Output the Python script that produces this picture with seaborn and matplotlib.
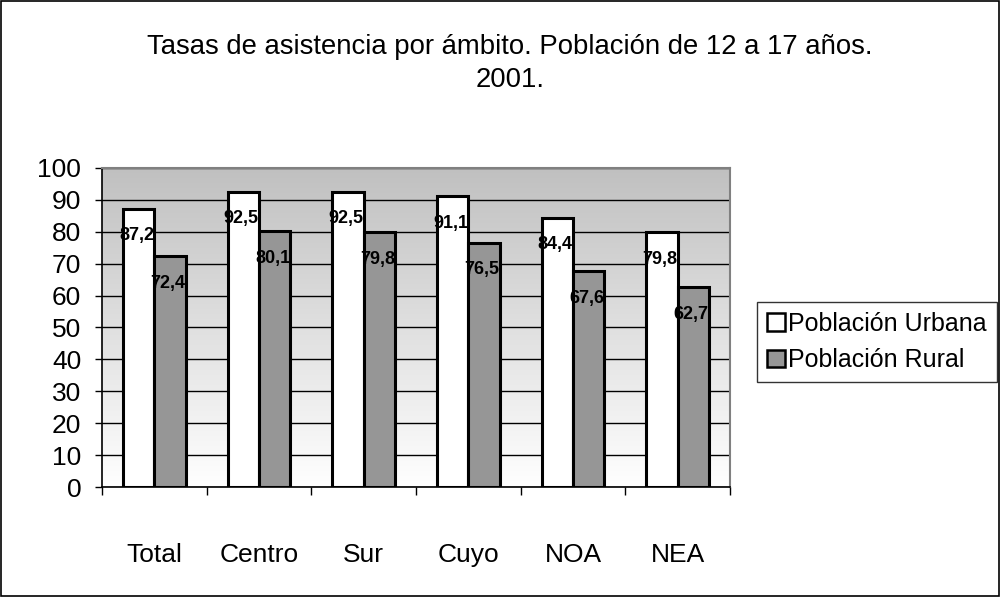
import numpy as np
import pandas as pd
import matplotlib
matplotlib.use("Agg")
import matplotlib.pyplot as plt
import seaborn as sns
from matplotlib.patches import Patch, Rectangle

# Data
regiones = ["Total", "Centro", "Sur", "Cuyo", "NOA", "NEA"]
urbana = [87.2, 92.5, 92.5, 91.1, 84.4, 79.8]
rural = [72.4, 80.1, 79.8, 76.5, 67.6, 62.7]
series = ["Población Urbana", "Población Rural"]
colores = ["#ffffff", "#969696"]

df = pd.DataFrame({
    "region": regiones * 2,
    "valor": urbana + rural,
    "serie": [series[0]] * len(regiones) + [series[1]] * len(regiones),
})

sns.set_style("white")
plt.rcParams["font.family"] = ["Liberation Sans", "DejaVu Sans"]
plt.rcParams["text.color"] = "black"
plt.rcParams["xtick.color"] = "black"
plt.rcParams["ytick.color"] = "black"

fig = plt.figure(figsize=(10, 5.97), dpi=100)
ax = fig.add_axes([0.102, 0.184, 0.628, 0.535])

# gradient background (gray top -> white bottom)
grad = np.linspace(1, 0, 256).reshape(-1, 1)
ax.imshow(grad, extent=[0, 1, 0, 1], transform=ax.transAxes, aspect="auto",
          cmap=matplotlib.colors.LinearSegmentedColormap.from_list("g", ["#ffffff", "#c0c0c0"]),
          zorder=0)

sns.barplot(data=df, x="region", y="valor", hue="serie", palette=colores,
            width=0.6, edgecolor="black", linewidth=2.2, ax=ax, legend=False,
            zorder=3)

ax.set_ylim(0, 100)
ax.set_xlim(-0.5, len(regiones) - 0.5)
ax.set_yticks(range(0, 101, 10))
ax.yaxis.grid(True, color="black", linewidth=1)
ax.set_axisbelow(True)
for gl in ax.get_ygridlines():
    gl.set_zorder(1)

ax.set_xlabel("")
ax.set_ylabel("")
ax.tick_params(axis="y", labelsize=19, length=5, width=1, direction="out",
               left=True, color="black", labelcolor="black", pad=10)
ax.tick_params(axis="x", which="major", labelsize=19, length=0, pad=40,
               labelcolor="black")
ax.set_xticks(np.arange(-0.5, len(regiones), 1), minor=True)
ax.tick_params(axis="x", which="minor", length=6, width=1, direction="out",
               bottom=True, color="black")

for side in ["left", "bottom"]:
    ax.spines[side].set_color("black")
    ax.spines[side].set_linewidth(1.2)
for side in ["top", "right"]:
    ax.spines[side].set_color("#808080")
    ax.spines[side].set_linewidth(1.5)

# value labels
for cont in ax.containers:
    for bar in cont:
        h = bar.get_height()
        ax.text(bar.get_x() + bar.get_width() / 2 - 0.02, h - 8.5,
                f"{h:.1f}".replace(".", ","), ha="center", va="center",
                fontsize=13, fontweight="bold", color="black", zorder=5)

fig.text(0.51, 0.922, "Tasas de asistencia por ámbito. Población de 12 a 17 años.",
         ha="center", va="center", fontsize=19.8, color="black")
fig.text(0.51, 0.866, "2001.", ha="center", va="center", fontsize=19.8, color="black")

handles = [Patch(facecolor=c, edgecolor="black", linewidth=1.8) for c in colores]
leg = fig.legend(handles, series, loc="center left", bbox_to_anchor=(0.757, 0.427),
                 fontsize=18, frameon=True, fancybox=False, edgecolor="black",
                 handlelength=0.7, handleheight=0.7, handletextpad=0.15,
                 borderpad=0.4, labelspacing=0.5, borderaxespad=0)
leg.get_frame().set_linewidth(1)

fig.patches.append(Rectangle((0.001, 0.001), 0.998, 0.997, transform=fig.transFigure,
                             fill=False, edgecolor="black", linewidth=1.2))

fig.savefig("out.png", dpi=100)
